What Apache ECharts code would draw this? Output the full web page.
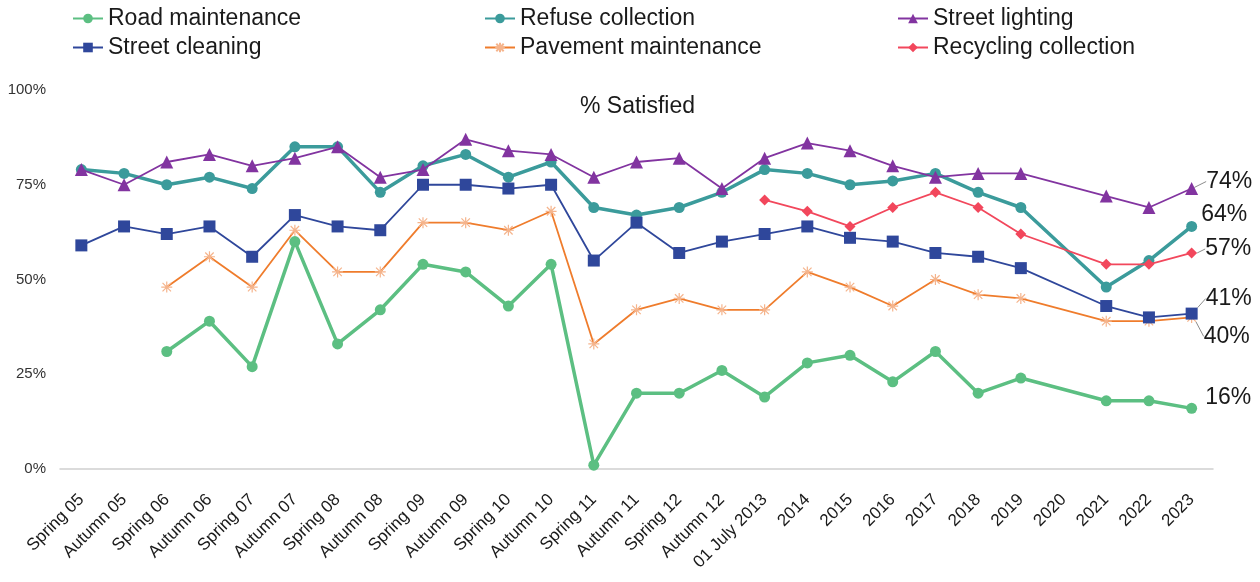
<!DOCTYPE html>
<html>
<head>
<meta charset="utf-8">
<script src="https://cdn.jsdelivr.net/npm/echarts@6/dist/echarts.min.js"></script>
<style>
  html, body { margin: 0; padding: 0; background: #fff; }
  #chart { width: 1260px; height: 582px; }
</style>
</head>
<body>
<div id="chart"></div>
<script>
// Survey periods
const periods = ['Spring 05', 'Autumn 05', 'Spring 06', 'Autumn 06', 'Spring 07', 'Autumn 07',
  'Spring 08', 'Autumn 08', 'Spring 09', 'Autumn 09', 'Spring 10', 'Autumn 10', 'Spring 11',
  'Autumn 11', 'Spring 12', 'Autumn 12', '01 July 2013', '2014', '2015', '2016', '2017', '2018',
  '2019', '2020', '2021', '2022', '2023'];

// % satisfied per service (null = not asked)
const roadMaintenance = [null, null, 31, 39, 27, 60, 33, 42, 54, 52, 43, 54, 1, 20, 20, 26, 19, 28, 30, 23, 31, 20, 24, null, 18, 18, 16];
const refuseCollection = [79, 78, 75, 77, 74, 85, 85, 73, 80, 83, 77, 81, 69, 67, 69, 73, 79, 78, 75, 76, 78, 73, 69, null, 48, 55, 64];
const streetLighting = [79, 75, 81, 83, 80, 82, 85, 77, 79, 87, 84, 83, 77, 81, 82, 74, 82, 86, 84, 80, 77, 78, 78, null, 72, 69, 74];
const streetCleaning = [59, 64, 62, 64, 56, 67, 64, 63, 75, 75, 74, 75, 55, 65, 57, 60, 62, 64, 61, 60, 57, 56, 53, null, 43, 40, 41];
const pavementMaintenance = [null, null, 48, 56, 48, 63, 52, 52, 65, 65, 63, 68, 33, 42, 45, 42, 42, 52, 48, 43, 50, 46, 45, null, 39, 39, 40];
const recyclingCollection = [null, null, null, null, null, null, null, null, null, null, null, null, null, null, null, null, 71, 68, 64, 69, 73, 69, 62, null, 54, 54, 57];

const yTicks = [0, 25, 50, 75, 100];

const FONT = 'Liberation Sans, Arial, sans-serif';
const asterisk = 'path://M0,0 L10,10 M10,0 L0,10 M5,-1.5 L5,11.5 M-1.5,5 L11.5,5';

// Nudges for the end-of-line value labels, and whether a leader line is drawn
const endLabelShift = {
  'Road maintenance': { d: [4, -11], line: false },
  'Refuse collection': { d: [0, -12], line: false },
  'Street lighting': { d: [4, -7], line: true },
  'Street cleaning': { d: [4, -15], line: true },
  'Pavement maintenance': { d: [0, 19], line: true },
  'Recycling collection': { d: [4, -4], line: true }
};

function withEndLabel(values) {
  const last = values.length - 1;
  return values.map((v, i) => i === last
    ? { value: v, label: { show: true } }
    : v);
}

function makeSeries(name, values, color, opts) {
  const shift = endLabelShift[name];
  return Object.assign({
    name: name,
    type: 'line',
    data: withEndLabel(values),
    connectNulls: true,
    color: color,
    lineStyle: { color: color, width: opts.lineWidth },
    itemStyle: { color: color },
    symbol: opts.symbol,
    symbolSize: opts.symbolSize,
    z: opts.z || 2,
    label: {
      show: false,
      position: 'right',
      distance: 4,
      formatter: p => p.value + '%',
      fontFamily: FONT,
      fontSize: 23,
      color: '#1a1a1a'
    },
    labelLayout: function () { return { dx: shift.d[0], dy: shift.d[1] }; },
    labelLine: { show: shift.line, length2: 0, lineStyle: { color: '#8c8c8c', width: 1 } },
    emphasis: { disabled: true }
  }, opts.extra || {});
}

const series = [
  makeSeries('Road maintenance', roadMaintenance, '#5cbf82', { lineWidth: 3.5, symbol: 'circle', symbolSize: 11, z: 3 }),
  makeSeries('Refuse collection', refuseCollection, '#3b9b9b', { lineWidth: 3.5, symbol: 'circle', symbolSize: 11, z: 3 }),
  makeSeries('Street lighting', streetLighting, '#8234a0', { lineWidth: 1.8, symbol: 'triangle', symbolSize: 13, z: 4 }),
  makeSeries('Street cleaning', streetCleaning, '#2f479b', { lineWidth: 1.8, symbol: 'rect', symbolSize: 12, z: 4 }),
  makeSeries('Pavement maintenance', pavementMaintenance, '#ef7c2c', {
    lineWidth: 1.8, symbol: asterisk, symbolSize: 11, z: 2,
    extra: { itemStyle: { color: 'none', borderColor: '#f5b48c', borderWidth: 1.2 } }
  }),
  makeSeries('Recycling collection', recyclingCollection, '#f2475c', { lineWidth: 1.8, symbol: 'diamond', symbolSize: 11, z: 4 })
];

const legendText = { fontFamily: FONT, fontSize: 23, color: '#1a1a1a', lineHeight: 23 };
function legendColumn(left, names) {
  return {
    left: left, top: 7, orient: 'vertical', itemGap: 6, itemWidth: 30, itemHeight: 12,
    textStyle: legendText, data: names, selectedMode: false, padding: 0
  };
}

const chart = echarts.init(document.getElementById('chart'), null, { renderer: 'canvas' });
chart.setOption({
  animation: false,
  backgroundColor: '#ffffff',
  title: {
    text: '% Satisfied',
    left: 575,
    top: 90,
    textStyle: { fontFamily: FONT, fontSize: 23, fontWeight: 'normal', color: '#1a1a1a' }
  },
  legend: [
    legendColumn(72, ['Road maintenance', 'Street cleaning']),
    legendColumn(484, ['Refuse collection', 'Pavement maintenance']),
    legendColumn(897, ['Street lighting', 'Recycling collection'])
  ],
  grid: { left: 60, right: 47, top: 90, bottom: 113, containLabel: false },
  xAxis: {
    type: 'category',
    data: periods,
    boundaryGap: true,
    axisLine: { lineStyle: { color: '#d0d0d0', width: 1.5 } },
    axisTick: { show: false },
    axisLabel: {
      rotate: 45, interval: 0, margin: 28,
      fontFamily: FONT, fontSize: 17, color: '#1a1a1a'
    }
  },
  yAxis: {
    type: 'value',
    min: yTicks[0],
    max: yTicks[yTicks.length - 1],
    interval: 25,
    axisLine: { show: false },
    axisTick: { show: false },
    splitLine: { show: false },
    axisLabel: {
      formatter: v => v + '%', margin: 14,
      fontFamily: FONT, fontSize: 15, color: '#333333'
    }
  },
  series: series
});
</script>
</body>
</html>
